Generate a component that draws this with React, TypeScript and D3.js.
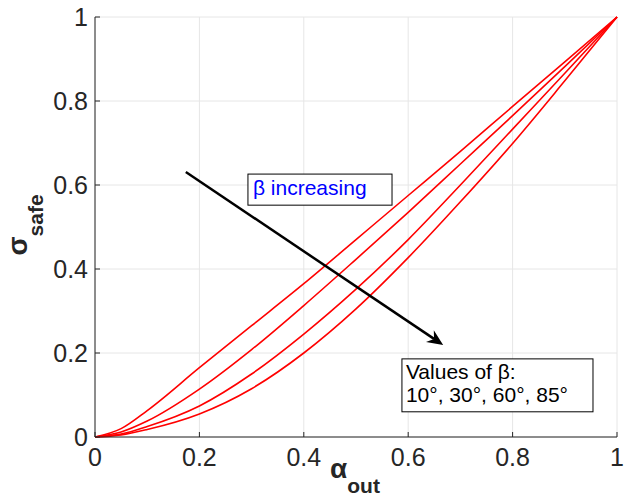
import React from "react";
import * as d3 from "d3";

// Data
const alphaOut = [0, 0.05, 0.1, 0.2, 0.3, 0.4, 0.5, 0.6, 0.7, 0.8, 0.9, 1];
const beta10 = [0, 0.02, 0.063, 0.165, 0.265, 0.365, 0.47, 0.575, 0.68, 0.787, 0.893, 1];
const beta30 = [0, 0.012, 0.038, 0.114, 0.208, 0.313, 0.423, 0.535, 0.65, 0.765, 0.882, 1];
const beta60 = [0, 0.007, 0.025, 0.074, 0.15, 0.245, 0.352, 0.47, 0.6, 0.733, 0.866, 1];
const beta85 = [0, 0.005, 0.018, 0.055, 0.115, 0.2, 0.305, 0.427, 0.56, 0.699, 0.848, 1];
const seriesList = [beta10, beta30, beta60, beta85];
const xTicks = [0, 0.2, 0.4, 0.6, 0.8, 1];
const yTicks = [0, 0.2, 0.4, 0.6, 0.8, 1];

// Annotation positions (data units)
const arrowFrom = [0.174, 0.631];
const arrowTo = [0.667, 0.219];
const incBox = { x0: 0.293, x1: 0.569, y0: 0.626, y1: 0.552 };
const valBox = { x0: 0.588, x1: 0.954, y0: 0.186, y1: 0.06 };

const W = 634, H = 500;
const margin = { left: 95, right: 17, top: 17, bottom: 63 };
const axisColor = "#262626";
const font = "'Liberation Sans', Arial, Helvetica, sans-serif";

const App = () => {
  const x = d3.scaleLinear().domain([0, 1]).range([margin.left, W - margin.right]);
  const y = d3.scaleLinear().domain([0, 1]).range([H - margin.bottom, margin.top]);

  const line = d3.line<number>()
    .x((_, i) => x(alphaOut[i]))
    .y(d => y(d))
    .curve(d3.curveMonotoneX);

  // arrow head
  const ax0 = x(arrowFrom[0]), ay0 = y(arrowFrom[1]);
  const ax1 = x(arrowTo[0]), ay1 = y(arrowTo[1]);
  const ang = Math.atan2(ay1 - ay0, ax1 - ax0);
  const headLen = 16, headW = 7, back = 11;
  const ux = Math.cos(ang), uy = Math.sin(ang);
  const px = -uy, py = ux;
  const head = [
    [ax1, ay1],
    [ax1 - headLen * ux + headW * px, ay1 - headLen * uy + headW * py],
    [ax1 - back * ux, ay1 - back * uy],
    [ax1 - headLen * ux - headW * px, ay1 - headLen * uy - headW * py],
  ];

  return (
    <svg width={W} height={H} style={{ position: "absolute", left: 0, top: 0, background: "#fff" }}
      fontFamily={font}>
      {/* grid */}
      <g stroke="#e6e6e6" strokeWidth={1}>
        {xTicks.map(t => (
          <line key={"gx" + t} x1={x(t)} x2={x(t)} y1={y(0)} y2={y(1)} />
        ))}
        {yTicks.map(t => (
          <line key={"gy" + t} x1={x(0)} x2={x(1)} y1={y(t)} y2={y(t)} />
        ))}
      </g>

      {/* curves */}
      {seriesList.map((s, i) => (
        <path key={i} d={line(s) || ""} fill="none" stroke="#ff0000" strokeWidth={1.6} />
      ))}

      {/* axes */}
      <g stroke={axisColor} strokeWidth={1}>
        <line x1={x(0)} x2={x(1)} y1={y(0)} y2={y(0)} />
        <line x1={x(0)} x2={x(0)} y1={y(0)} y2={y(1)} />
        {xTicks.map(t => (
          <line key={"tx" + t} x1={x(t)} x2={x(t)} y1={y(0)} y2={y(0) - 5} />
        ))}
        {yTicks.map(t => (
          <line key={"ty" + t} x1={x(0)} x2={x(0) + 5} y1={y(t)} y2={y(t)} />
        ))}
      </g>
      <g fill={axisColor} fontSize={25}>
        {xTicks.map(t => (
          <text key={"lx" + t} x={x(t)} y={y(0) + 29} textAnchor="middle">{d3.format("~g")(t)}</text>
        ))}
        {yTicks.map(t => (
          <text key={"ly" + t} x={x(0) - 7} y={y(t) + 9} textAnchor="end">{d3.format("~g")(t)}</text>
        ))}
      </g>

      {/* axis labels */}
      <text x={355} y={478} textAnchor="middle" fontWeight="bold" fill={axisColor} fontSize={28}>
        α<tspan dy={15} fontSize={21}>out</tspan>
      </text>
      <text transform="translate(27,225) rotate(-90)" textAnchor="middle" fontWeight="bold" fill={axisColor} fontSize={28}>
        σ<tspan dy={16} fontSize={21}>safe</tspan>
      </text>

      {/* arrow */}
      <line x1={ax0} y1={ay0} x2={ax1 - back * ux} y2={ay1 - back * uy} stroke="#000" strokeWidth={2.5} />
      <polygon points={head.map(p => p.join(",")).join(" ")} fill="#000" />

      {/* beta increasing box */}
      <rect x={x(incBox.x0)} y={y(incBox.y0)} width={x(incBox.x1) - x(incBox.x0)} height={y(incBox.y1) - y(incBox.y0)}
        fill="#fff" stroke="#000" strokeWidth={1} />
      <text x={x(incBox.x0) + 5} y={y(incBox.y0) + 21} fill="#0000ff" fontSize={21}>β increasing</text>

      {/* values box */}
      <rect x={x(valBox.x0)} y={y(valBox.y0)} width={x(valBox.x1) - x(valBox.x0)} height={y(valBox.y1) - y(valBox.y0)}
        fill="#fff" stroke="#000" strokeWidth={1} />
      <text x={x(valBox.x0) + 4} y={y(valBox.y0) + 20} fill="#000" fontSize={21}>Values of β:</text>
      <text x={x(valBox.x0) + 4} y={y(valBox.y0) + 43} fill="#000" fontSize={21}>10°, 30°, 60°, 85°</text>
    </svg>
  );
};

export default App;
